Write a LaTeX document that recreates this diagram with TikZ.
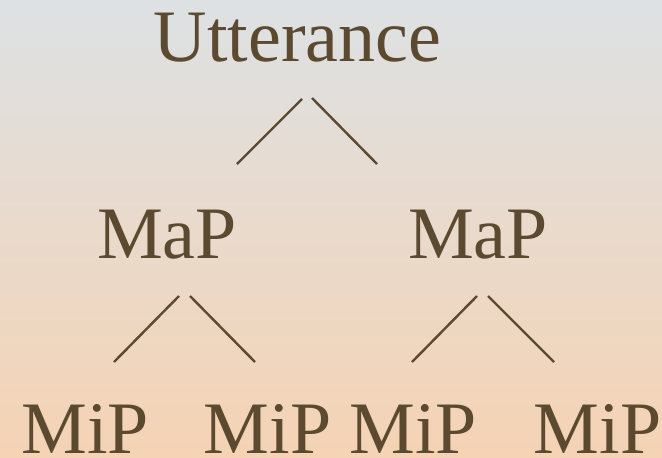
\documentclass[tikz,border=0pt]{standalone}
\usepackage{fontspec}
\setmainfont{Liberation Serif}
\definecolor{txt}{RGB}{91,74,47}
\definecolor{bgtop}{RGB}{221,225,228}
\definecolor{bgbot}{RGB}{245,211,180}
\begin{document}
\begin{tikzpicture}[x=1pt,y=-1pt,
  lbl/.style={anchor=base,inner sep=0pt,text=txt,font=\fontsize{74}{80}\selectfont},
  branch/.style={draw=txt,line width=2.4pt}]
\shade[top color=bgtop,bottom color=bgbot] (0,0) rectangle (662,458);
\useasboundingbox (0,0) rectangle (662,458);
\node[lbl] (u) at (297.5,61) {Utterance};
\node[lbl] (m1) at (167,258) {MaP};
\node[lbl] (m2) at (478,258) {MaP};
\node[lbl] (p1) at (85,453) {MiP};
\node[lbl] (p2) at (267.5,453) {MiP};
\node[lbl] (p3) at (413,453) {MiP};
\node[lbl] (p4) at (597.5,453) {MiP};
\coordinate (ua) at (302,99); \coordinate (ub) at (312,98);
\coordinate (m1t) at (237,164); \coordinate (m2t) at (377,164);
\coordinate (m1a) at (179,296); \coordinate (m1b) at (190,296);
\coordinate (p1t) at (114,362); \coordinate (p2t) at (255,362);
\coordinate (m2a) at (477,296); \coordinate (m2b) at (488,296);
\coordinate (p3t) at (412,362); \coordinate (p4t) at (554,362);
\draw[branch] (ua) -- (m1t);
\draw[branch] (ub) -- (m2t);
\draw[branch] (m1a) -- (p1t);
\draw[branch] (m1b) -- (p2t);
\draw[branch] (m2a) -- (p3t);
\draw[branch] (m2b) -- (p4t);
\end{tikzpicture}
\end{document}
